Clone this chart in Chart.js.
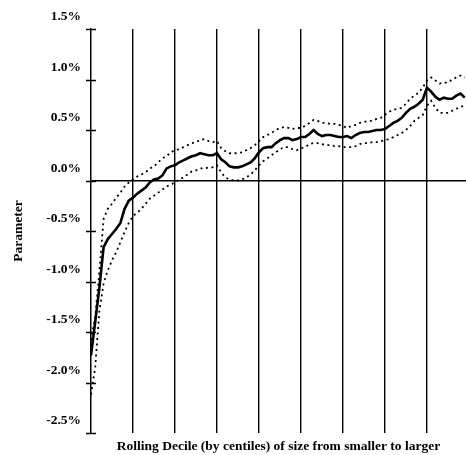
<!DOCTYPE html>
<html>
<head>
<meta charset="utf-8">
<script src="https://cdn.jsdelivr.net/npm/chart.js@4.4.0/dist/chart.umd.min.js"></script>
<style>
  body { margin: 0; background: #fff; }
  canvas { display: block; }
</style>
</head>
<body>
<canvas id="sizeChart" width="466" height="455"></canvas>
<script>
// rolling decile windows, indexed by starting centile
const centiles = [
    0, 1, 2, 3, 4, 5, 6, 7, 8, 9,
    10, 11, 12, 13, 14, 15, 16, 17, 18, 19,
    20, 21, 22, 23, 24, 25, 26, 27, 28, 29,
    30, 31, 32, 33, 34, 35, 36, 37, 38, 39,
    40, 41, 42, 43, 44, 45, 46, 47, 48, 49,
    50, 51, 52, 53, 54, 55, 56, 57, 58, 59,
    60, 61, 62, 63, 64, 65, 66, 67, 68, 69,
    70, 71, 72, 73, 74, 75, 76, 77, 78, 79,
    80, 81, 82, 83, 84, 85, 86, 87, 88, 89
];

// parameter estimate, in percent
const paramEstimate = [
    -1.73, -1.40, -1.06, -0.66, -0.58, -0.53, -0.48, -0.42, -0.28, -0.20,
    -0.17, -0.13, -0.10, -0.07, -0.02, 0.01, 0.02, 0.05, 0.12, 0.14,
    0.15, 0.18, 0.20, 0.22, 0.24, 0.25, 0.27, 0.26, 0.25, 0.25,
    0.27, 0.21, 0.18, 0.14, 0.13, 0.13, 0.14, 0.16, 0.18, 0.22,
    0.28, 0.32, 0.33, 0.33, 0.37, 0.40, 0.42, 0.42, 0.40, 0.41,
    0.43, 0.43, 0.46, 0.50, 0.46, 0.44, 0.45, 0.45, 0.44, 0.43,
    0.43, 0.44, 0.42, 0.45, 0.47, 0.48, 0.48, 0.49, 0.50, 0.50,
    0.51, 0.54, 0.57, 0.59, 0.62, 0.67, 0.71, 0.73, 0.76, 0.80,
    0.92, 0.88, 0.83, 0.80, 0.82, 0.81, 0.81, 0.84, 0.86, 0.82
];

const paramUpper = [
    -1.58, -1.35, -0.90, -0.38, -0.28, -0.23, -0.17, -0.12, -0.06, -0.02,
    0.01, 0.04, 0.06, 0.08, 0.12, 0.14, 0.18, 0.22, 0.24, 0.28,
    0.30, 0.31, 0.33, 0.35, 0.37, 0.38, 0.40, 0.41, 0.39, 0.38,
    0.39, 0.32, 0.29, 0.27, 0.27, 0.27, 0.28, 0.30, 0.32, 0.35,
    0.39, 0.43, 0.45, 0.47, 0.50, 0.52, 0.53, 0.52, 0.51, 0.52,
    0.52, 0.54, 0.57, 0.60, 0.59, 0.57, 0.57, 0.56, 0.56, 0.55,
    0.54, 0.52, 0.54, 0.55, 0.57, 0.58, 0.59, 0.59, 0.61, 0.62,
    0.65, 0.68, 0.70, 0.71, 0.72, 0.76, 0.81, 0.84, 0.87, 0.92,
    0.99, 1.02, 0.99, 0.96, 0.97, 0.97, 1.00, 1.02, 1.04, 1.02
];

const paramLower = [
    -2.12, -1.85, -1.29, -1.02, -0.89, -0.79, -0.71, -0.61, -0.51, -0.42,
    -0.35, -0.32, -0.28, -0.23, -0.18, -0.15, -0.12, -0.09, -0.06, -0.04,
    -0.02, 0.01, 0.03, 0.06, 0.09, 0.10, 0.12, 0.12, 0.13, 0.13,
    0.15, 0.08, 0.03, 0.01, 0.00, 0.00, 0.01, 0.03, 0.06, 0.10,
    0.15, 0.19, 0.22, 0.25, 0.28, 0.31, 0.33, 0.33, 0.31, 0.30,
    0.32, 0.33, 0.36, 0.37, 0.37, 0.36, 0.35, 0.35, 0.34, 0.34,
    0.33, 0.33, 0.33, 0.34, 0.36, 0.37, 0.37, 0.38, 0.38, 0.39,
    0.40, 0.41, 0.43, 0.45, 0.47, 0.50, 0.54, 0.59, 0.62, 0.65,
    0.74, 0.79, 0.72, 0.67, 0.67, 0.67, 0.69, 0.71, 0.73, 0.74
];

// decile boundaries drawn as vertical rules
const decileMarks = [10, 20, 30, 40, 50, 60, 70, 80];

const serifFont = { family: "'Liberation Serif', 'Times New Roman', serif", size: 13.5, weight: 'bold' };

const toPoints = values => centiles.map((c, i) => ({ x: c, y: values[i] }));

// short tick marks crossing the y axis
const crossTicks = {
    id: 'crossTicks',
    afterDraw(chart) {
        const yScale = chart.scales.y;
        const ctx = chart.ctx;
        ctx.save();
        ctx.strokeStyle = '#000';
        ctx.lineWidth = 1.5;
        yScale.ticks.forEach(t => {
            const py = Math.round(yScale.getPixelForValue(t.value)) + 0.5;
            ctx.beginPath();
            ctx.moveTo(yScale.right - 5, py);
            ctx.lineTo(yScale.right + 5, py);
            ctx.stroke();
        });
        ctx.restore();
    }
};

const ctx = document.getElementById('sizeChart').getContext('2d');
new Chart(ctx, {
    type: 'line',
    data: {
        datasets: [
            {
                label: 'Upper',
                data: toPoints(paramUpper),
                borderColor: '#000',
                borderWidth: 1.8,
                borderDash: [2, 3.5],
                pointRadius: 0,
                tension: 0
            },
            {
                label: 'Parameter',
                data: toPoints(paramEstimate),
                borderColor: '#000',
                borderWidth: 2.6,
                pointRadius: 0,
                tension: 0
            },
            {
                label: 'Lower',
                data: toPoints(paramLower),
                borderColor: '#000',
                borderWidth: 1.8,
                borderDash: [2, 3.5],
                pointRadius: 0,
                tension: 0
            }
        ]
    },
    options: {
        responsive: false,
        animation: false,
        devicePixelRatio: 1,
        layout: {
            padding: { top: 29, right: 0, bottom: 0, left: 0 }
        },
        scales: {
            x: {
                type: 'linear',
                min: 0,
                max: 89.3,
                afterBuildTicks: scale => {
                    scale.ticks = decileMarks.map(v => ({ value: v }));
                },
                afterFit: scale => {
                    scale.height = 22;
                },
                ticks: { display: false },
                border: { display: false },
                grid: {
                    color: '#000',
                    lineWidth: 1.4,
                    drawTicks: false
                },
                title: {
                    display: true,
                    text: 'Rolling Decile (by centiles) of size from smaller to larger',
                    font: serifFont,
                    color: '#000',
                    padding: { top: 0, bottom: 0 }
                }
            },
            y: {
                min: -2.5,
                max: 1.5,
                afterFit: scale => {
                    scale.width = 91;
                },
                ticks: {
                    stepSize: 0.5,
                    color: '#000',
                    font: serifFont,
                    padding: 10,
                    labelOffset: -12,
                    callback: v => v.toFixed(1) + '%'
                },
                border: { display: true, color: '#000', width: 1.5 },
                grid: {
                    drawTicks: false,
                    color: c => (c.tick && c.tick.value === 0 ? '#000' : 'rgba(0,0,0,0)'),
                    lineWidth: 1.4
                },
                title: {
                    display: true,
                    text: 'Parameter',
                    font: serifFont,
                    color: '#000',
                    padding: { top: 10, bottom: 0 }
                }
            }
        },
        plugins: {
            legend: { display: false },
            tooltip: { enabled: false }
        }
    },
    plugins: [crossTicks]
});
</script>
</body>
</html>
